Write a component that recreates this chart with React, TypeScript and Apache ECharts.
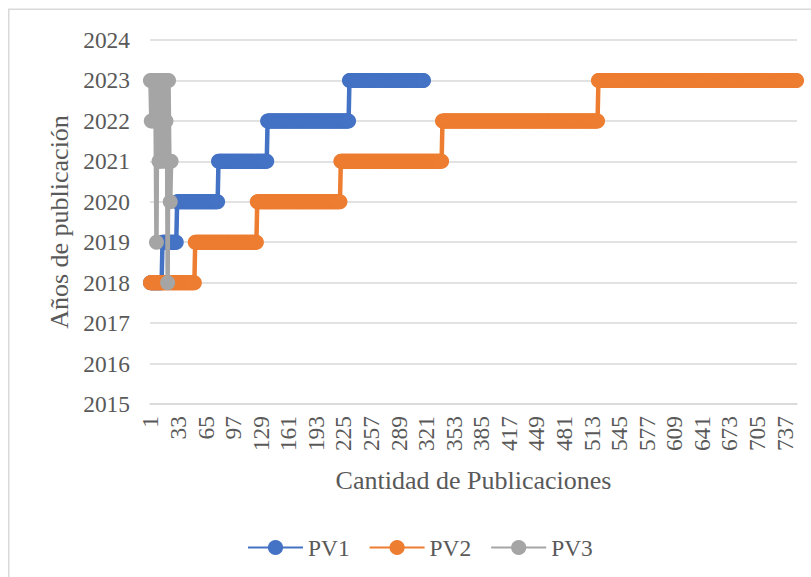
import React, { useEffect, useRef } from "react";
import * as echarts from "echarts";

// Publication year runs per series: each year is repeated `count` times, in order.
const pv1Years = [2018, 2019, 2020, 2021, 2022, 2023];
const pv1Counts = [14, 17, 48, 57, 95, 87];

const pv2Years = [2018, 2019, 2020, 2021, 2022, 2023];
const pv2Counts = [52, 72, 97, 118, 181, 231];

// PV3 is short and unsorted, so its values are listed one by one.
const pv3Values = [
  2023, 2022, 2023, 2022, 2023, 2023, 2022, 2019, 2023, 2022, 2021, 2023, 2021,
  2023, 2022, 2023, 2021, 2023, 2022, 2023, 2018, 2023, 2021, 2020, 2021,
];

const yTicks = { min: 2015, max: 2024, step: 1 };
const seriesNames = ["PV1", "PV2", "PV3"];
const seriesColors = ["#4472C4", "#ED7D31", "#A5A5A5"];

function expandRuns(years: number[], counts: number[]): number[] {
  const out: number[] = [];
  years.forEach((y, k) => {
    for (let j = 0; j < counts[k]; j++) out.push(y);
  });
  return out;
}

const FONT = "'Times New Roman', 'Liberation Serif', serif";
const TEXT = "#595959";
const GRID = "#D9D9D9";

export default function App() {
  const ref = useRef<HTMLDivElement>(null);

  useEffect(() => {
    if (!ref.current) return;
    const chart = echarts.init(ref.current, undefined, { renderer: "svg" });

    const pv1 = expandRuns(pv1Years, pv1Counts);
    const pv2 = expandRuns(pv2Years, pv2Counts);
    const allSeries = [pv1, pv2, pv3Values];
    const n = Math.max(...allSeries.map((s) => s.length));
    const categories = Array.from({ length: n }, (_, i) => String(i + 1));

    chart.setOption({
      animation: false,
      backgroundColor: "#ffffff",
      textStyle: { fontFamily: FONT },
      graphic: [
        {
          type: "rect",
          shape: { x: 8.75, y: 9.25, width: 900, height: 700 },
          style: { fill: "none", stroke: GRID, lineWidth: 1.5 },
          silent: true,
          z: -10,
        },
      ],
      grid: { left: 150, right: 14, top: 40, bottom: 173, containLabel: false },
      legend: {
        left: 242,
        top: 531,
        itemWidth: 55,
        itemHeight: 19,
        itemGap: 19,
        textStyle: { fontFamily: FONT, fontSize: 23.4, color: TEXT },
        data: seriesNames,
      },
      xAxis: {
        type: "category",
        data: categories,
        boundaryGap: true,
        name: "Cantidad de Publicaciones",
        nameLocation: "middle",
        nameGap: 63,
        nameTextStyle: { fontFamily: FONT, fontSize: 26, color: TEXT },
        axisLine: { show: true, lineStyle: { color: GRID, width: 1.5 } },
        axisTick: { show: false },
        axisLabel: {
          interval: 31,
          rotate: 90,
          margin: 12,
          fontFamily: FONT,
          fontSize: 23.4,
          color: TEXT,
        },
        splitLine: { show: false },
      },
      yAxis: {
        type: "value",
        min: yTicks.min,
        max: yTicks.max,
        interval: yTicks.step,
        name: "Años de publicación",
        nameLocation: "middle",
        nameRotate: 90,
        nameGap: 75,
        nameTextStyle: { fontFamily: FONT, fontSize: 26, color: TEXT },
        axisLine: { show: false },
        axisTick: { show: false },
        axisLabel: {
          margin: 20,
          fontFamily: FONT,
          fontSize: 23.4,
          color: TEXT,
          formatter: (v: number) => String(v),
        },
        splitLine: { show: true, lineStyle: { color: GRID, width: 1.5 } },
      },
      series: allSeries.map((data, k) => ({
        name: seriesNames[k],
        type: "line",
        data,
        color: seriesColors[k],
        symbol: "circle",
        symbolSize: 15,
        showAllSymbol: true,
        lineStyle: { width: 4.5, color: seriesColors[k] },
        itemStyle: { color: seriesColors[k] },
        emphasis: { disabled: true },
        z: 2 + k,
      })),
    });

    return () => chart.dispose();
  }, []);

  return (
    <div
      ref={ref}
      style={{ position: "fixed", left: 0, top: 0, width: 811, height: 577 }}
    />
  );
}
